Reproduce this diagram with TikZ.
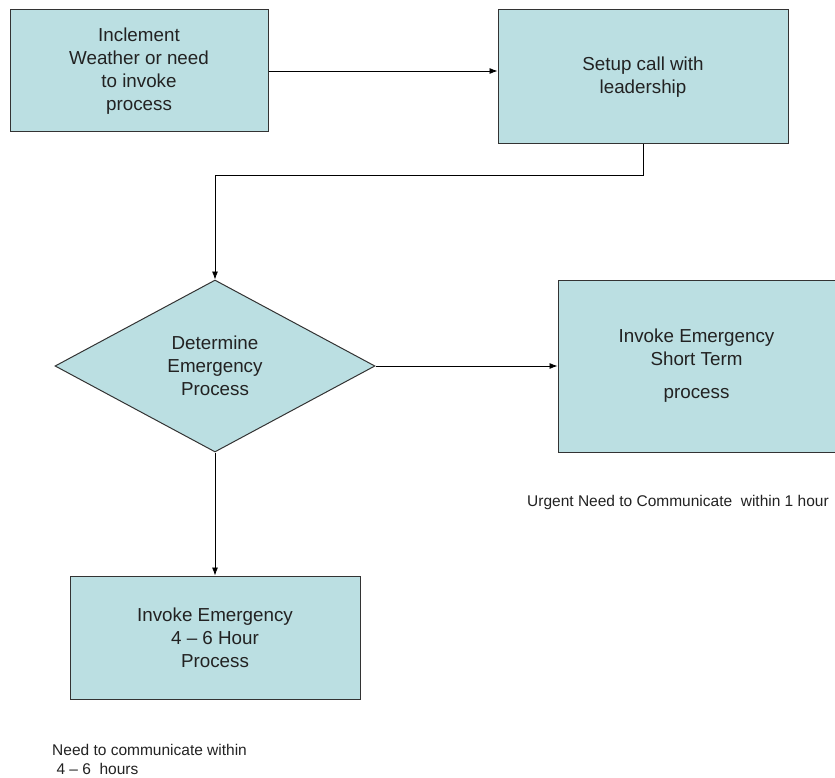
\documentclass[tikz,border=0pt]{standalone}
\usepackage{fontspec}
\setmainfont{Liberation Sans}
\usepackage{xcolor}
\usepackage{tikz}
\usetikzlibrary{shapes.geometric, arrows.meta, positioning}
\definecolor{boxfill}{HTML}{BBDFE2}
\definecolor{boxline}{HTML}{333333}
\definecolor{inktext}{HTML}{222222}

\begin{document}
\begin{tikzpicture}[x=1pt, y=-1pt, >={Latex[length=8pt, width=6pt]}, text=inktext]
    \tikzstyle{stepbox} = [rectangle, draw=boxline, fill=boxfill, line width=1pt, align=center, font=\fontsize{18.8}{23}\selectfont]
    \tikzstyle{choice} = [diamond, draw=boxline, fill=boxfill, line width=1pt, aspect=1.86, inner sep=0pt, minimum width=320pt, minimum height=172pt, align=center, font=\fontsize{18.8}{23}\selectfont]
    \tikzstyle{note} = [align=left, inner sep=0pt, font=\fontsize{15.5}{19}\selectfont]
    \tikzstyle{link} = [draw=black, line width=0.8pt]

    \useasboundingbox (0,0) rectangle (835,778);

    \node [stepbox, minimum width=258pt, minimum height=122pt] (weather) at (139,71) {Inclement\\Weather or need\\to invoke\\process};
    \node [stepbox, minimum width=290pt, minimum height=134pt] (setup) at (643,77) {Setup call with\\leadership};

    \node [choice] (decide) at (215,366) {Determine\\Emergency\\Process};
    \node [stepbox, minimum width=277pt, minimum height=172pt, right=182pt of decide] (shortterm) {Invoke Emergency\\Short Term\\[10pt]process};
    \node [stepbox, minimum width=290pt, minimum height=123pt, below=123pt of decide] (longterm) {Invoke Emergency\\4 -- 6 Hour\\Process};

    \node [note, anchor=west] (urgent) at (527,502) {Urgent Need to Communicate\ \ within 1 hour};
    \node [note, anchor=north west] (within) at (52,744) {Need to communicate within\\\ 4 -- 6\ \ hours};

    \path [link, ->] (weather.east) -- (weather.east -| setup.west);
    \path [link, ->] (setup.south) -- ++(0,31) -| (decide.north);
    \path [link, ->] (decide.east) -- (shortterm.west);
    \path [link, ->] (decide.south) -- (longterm.north);
\end{tikzpicture}
\end{document}
